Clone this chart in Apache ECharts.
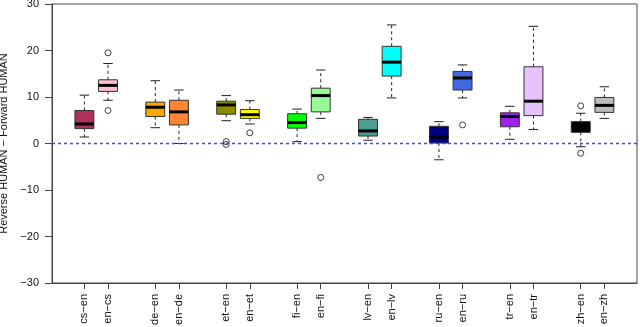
<!DOCTYPE html>
<html>
<head>
<meta charset="utf-8">
<script src="https://cdn.jsdelivr.net/npm/echarts@6/dist/echarts.min.js"></script>
<style>
  html, body { margin: 0; padding: 0; background: #fff; }
  #chart { width: 640px; height: 327px; }
</style>
</head>
<body>
<div id="chart"></div>
<script>
// language pairs, one box each
const labels = ['cs−en', 'en−cs', 'de−en', 'en−de', 'et−en', 'en−et', 'fi−en', 'en−fi',
    'lv−en', 'en−lv', 'ru−en', 'en−ru', 'tr−en', 'en−tr', 'zh−en', 'en−zh'];

// five-number summaries
const whiskerLow  = [1.4, 9.3, 3.4, 0.0, 4.9, 4.2, 0.4, 5.4, 0.7, 9.8, -3.5, 9.8, 0.9, 3.0, -0.7, 5.4];
const q1          = [3.2, 11.2, 5.8, 4.0, 6.3, 5.4, 3.3, 6.8, 1.6, 14.5, 0.1, 11.5, 3.6, 6.0, 2.4, 6.7];
const median      = [4.2, 12.5, 7.8, 6.8, 8.3, 6.2, 4.5, 10.3, 2.7, 17.5, 1.4, 14.1, 5.8, 9.1, 3.5, 8.2];
const q3          = [7.1, 13.7, 8.9, 9.3, 9.1, 7.3, 6.4, 11.9, 5.2, 20.9, 3.7, 15.5, 6.6, 16.5, 4.7, 9.9];
const whiskerHigh = [10.4, 17.2, 13.5, 11.5, 10.3, 9.2, 7.4, 15.8, 5.6, 25.5, 4.7, 16.9, 8.0, 25.2, 6.5, 12.2];

// outliers: [box index, value]
const outliers = [[1, 19.5], [1, 7.1], [4, 0.4], [4, -0.2], [5, 2.3], [7, -7.3], [11, 4.0], [14, 8.1], [14, -2.1]];

const yTicks = [-30, -20, -10, 0, 10, 20, 30];
const zeroLevel = 0;

const boxColors = ['#B03060', '#FFC0CB', '#FFA500', '#FF8533', '#8B8B00', '#FFFF00', '#00FF00', '#98FB98',
    '#4C9E8E', '#00FFFF', '#000080', '#4169E1', '#A020F0', '#E8C2FF', '#000000', '#BEBEBE'];

// pairs sit at 1,2 then 4,5 ... with an empty slot between groups
const posOf = (i) => Math.floor(i / 2) * 3 + (i % 2) + 1;
const positions = labels.map((_, i) => posOf(i));
const labelAt = {};
labels.forEach((l, i) => { labelAt[positions[i]] = l; });
const xMin = -0.37;
const xMax = 24.38;

const boxData = labels.map((_, i) => [positions[i], whiskerLow[i], q1[i], median[i], q3[i], whiskerHigh[i], i]);
const outlierData = outliers.map(([i, v]) => [posOf(i), v]);

const renderBox = (params, api) => {
    const x = api.value(0);
    const pLow = api.coord([x, api.value(1)]);
    const pQ1 = api.coord([x, api.value(2)]);
    const pMed = api.coord([x, api.value(3)]);
    const pQ3 = api.coord([x, api.value(4)]);
    const pHigh = api.coord([x, api.value(5)]);
    const w = api.size([0.8, 0])[0];
    const cx = pMed[0];
    const dash = {stroke: '#222', lineWidth: 1, lineDash: [3, 3]};
    const solid = {stroke: '#222', lineWidth: 1};
    return {
        type: 'group',
        children: [
            {type: 'line', shape: {x1: cx, y1: pQ3[1], x2: cx, y2: pHigh[1]}, style: dash},
            {type: 'line', shape: {x1: cx, y1: pQ1[1], x2: cx, y2: pLow[1]}, style: dash},
            {type: 'line', shape: {x1: cx - w / 4, y1: pHigh[1], x2: cx + w / 4, y2: pHigh[1]}, style: solid},
            {type: 'line', shape: {x1: cx - w / 4, y1: pLow[1], x2: cx + w / 4, y2: pLow[1]}, style: solid},
            {
                type: 'rect',
                shape: {x: cx - w / 2, y: pQ3[1], width: w, height: pQ1[1] - pQ3[1]},
                style: {fill: boxColors[api.value(6)], stroke: '#333', lineWidth: 1},
            },
            {type: 'line', shape: {x1: cx - w / 2, y1: pMed[1], x2: cx + w / 2, y2: pMed[1]}, style: {stroke: '#000', lineWidth: 3}},
        ],
    };
};

const chart = echarts.init(document.getElementById('chart'), null, {renderer: 'canvas'});

chart.setOption({
    animation: false,
    grid: {
        left: 52, right: 3, top: 4, bottom: 44,
        containLabel: false,
        outerBoundsMode: 'none',
        show: true,
        borderColor: '#444',
        borderWidth: 1,
    },
    xAxis: {
        type: 'value',
        min: xMin,
        max: xMax,
        axisLine: {show: true, onZero: false, lineStyle: {color: '#444', width: 1}},
        axisTick: {show: true, length: 6, customValues: positions, lineStyle: {color: '#444'}},
        axisLabel: {
            customValues: positions,
            rotate: 90,
            margin: 11,
            fontFamily: 'Liberation Sans',
            fontSize: 11,
            color: '#111',
            formatter: (v) => labelAt[Math.round(v)] || '',
        },
        splitLine: {show: false},
    },
    yAxis: {
        type: 'value',
        min: -30,
        max: 30,
        interval: 10,
        name: 'Reverse HUMAN − Forward HUMAN',
        nameLocation: 'middle',
        nameGap: 40,
        nameTextStyle: {fontFamily: 'Liberation Sans', fontSize: 11, color: '#111'},
        axisLine: {show: true, onZero: false, lineStyle: {color: '#444', width: 1}},
        axisTick: {show: true, length: 7, customValues: yTicks, lineStyle: {color: '#444'}},
        axisLabel: {
            customValues: yTicks,
            margin: 13,
            fontFamily: 'Liberation Sans',
            fontSize: 11,
            color: '#111',
            formatter: (v) => String(v).replace('-', '−'),
        },
        splitLine: {show: false},
    },
    series: [
        {
            // dashed reference line at zero
            type: 'line',
            data: [[xMin, zeroLevel], [xMax, zeroLevel]],
            showSymbol: false,
            silent: true,
            itemStyle: {color: '#4444FF'},
            lineStyle: {color: '#4444FF', type: [3, 3], width: 1.5},
            z: 5,
        },
        {
            type: 'custom',
            renderItem: renderBox,
            encode: {x: 0, y: [1, 2, 3, 4, 5]},
            data: boxData,
            z: 3,
        },
        {
            type: 'scatter',
            data: outlierData,
            symbol: 'circle',
            symbolSize: 6,
            itemStyle: {color: 'rgba(0,0,0,0)', borderColor: '#111', borderWidth: 1},
            z: 4,
        },
    ],
});
</script>
</body>
</html>
